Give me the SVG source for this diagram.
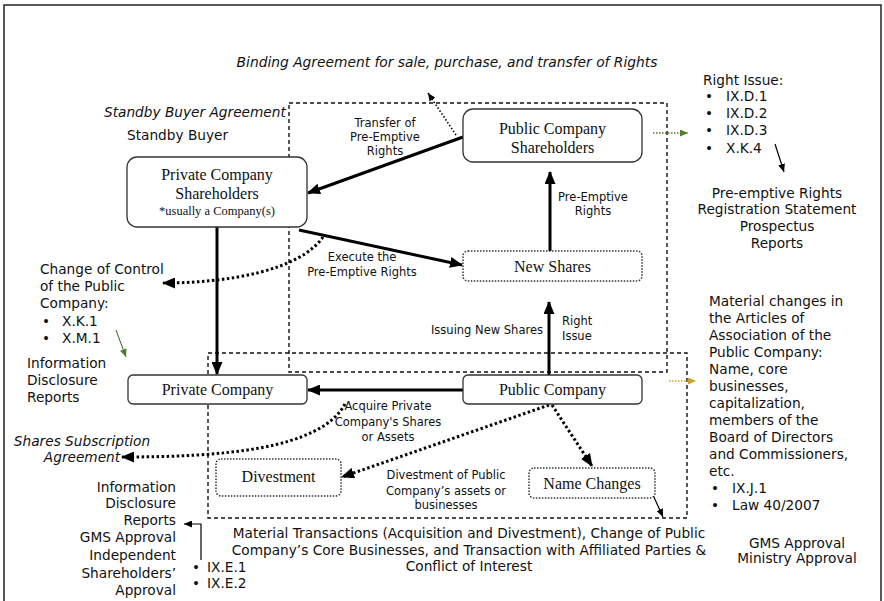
<svg xmlns="http://www.w3.org/2000/svg" width="884" height="601" viewBox="0 0 884 601">
<defs>
<style>
.s{font-family:"DejaVu Sans",Verdana,sans-serif;font-size:13.7px;fill:#111}
.l{font-family:"DejaVu Sans",Verdana,sans-serif;font-size:11.5px;fill:#111}
.i{font-style:italic}
.n{font-family:"Liberation Serif","Times New Roman",serif;font-size:16px;fill:#111}
.box{fill:#fff;stroke:#333;stroke-width:1.3}
.dbox{fill:#fff;stroke:#333;stroke-width:1.5;stroke-dasharray:1.5 1.5}
.grp{fill:none;stroke:#111;stroke-width:1.4;stroke-dasharray:4 3}
.thick{fill:none;stroke:#000;stroke-width:3}
.dot{fill:none;stroke:#000;stroke-width:3;stroke-dasharray:2.5 2.5}
.thin{fill:none;stroke:#000;stroke-width:1.2}
.tdot{fill:none;stroke:#000;stroke-width:1.6;stroke-dasharray:1.5 2}
</style>
<marker id="ah" markerUnits="userSpaceOnUse" markerWidth="13" markerHeight="11" refX="12" refY="5.5" orient="auto"><path d="M0,0 L13,5.5 L0,11 z" fill="#000"/></marker>
<marker id="as" markerUnits="userSpaceOnUse" markerWidth="8" markerHeight="7" refX="8" refY="3.5" orient="auto"><path d="M0,0 L8,3.5 L0,7 z" fill="#000"/></marker>
<marker id="ag" markerUnits="userSpaceOnUse" markerWidth="8" markerHeight="7" refX="8" refY="3.5" orient="auto"><path d="M0,0 L8,3.5 L0,7 z" fill="#4f7f2f"/></marker>
<marker id="ay" markerUnits="userSpaceOnUse" markerWidth="8" markerHeight="7" refX="8" refY="3.5" orient="auto"><path d="M0,0 L8,3.5 L0,7 z" fill="#c9a227"/></marker>
</defs>
<rect width="884" height="601" fill="#fff"/>
<rect x="4" y="5" width="877" height="620" fill="none" stroke="#222" stroke-width="1.5"/>

<g id="groups">
<rect class="grp" x="289" y="103" width="378" height="269"/>
<rect class="grp" x="208" y="353" width="479" height="165"/>
</g>

<g id="connectors">
<line class="thick" x1="463" y1="137" x2="308" y2="193" marker-end="url(#ah)"/>
<line class="tdot" x1="456" y1="135" x2="428" y2="93" marker-end="url(#as)"/>
<line class="thick" x1="550" y1="251" x2="550" y2="172" marker-end="url(#ah)"/>
<line class="thick" x1="299" y1="230" x2="462" y2="265" marker-end="url(#ah)"/>
<line class="thick" x1="217" y1="227" x2="217" y2="374" marker-end="url(#ah)"/>
<path class="dot" d="M323,237 C300,270 230,283 163,283" marker-end="url(#ah)"/>
<line class="thick" x1="549" y1="375" x2="549" y2="302" marker-end="url(#ah)"/>
<line class="thick" x1="463" y1="390" x2="308" y2="390" marker-end="url(#ah)"/>
<path class="dot" d="M345,404 C320,450 220,457 122,457" marker-end="url(#ah)"/>
<line class="dot" x1="549" y1="405" x2="342" y2="477" marker-end="url(#ah)"/>
<line class="dot" x1="552" y1="405" x2="592" y2="466" marker-end="url(#ah)"/>
<line class="thin" x1="653" y1="495" x2="663" y2="517" marker-end="url(#as)"/>
<line x1="653" y1="133" x2="688" y2="133" stroke="#4f7f2f" stroke-width="1.5" stroke-dasharray="1.5 1.5" marker-end="url(#ag)"/>
<line x1="669" y1="381" x2="696" y2="381" stroke="#c9a227" stroke-width="1.5" stroke-dasharray="1.5 1.5" marker-end="url(#ay)"/>
<line x1="116" y1="330" x2="126" y2="357" stroke="#2f5f1f" stroke-width="1" marker-end="url(#ag)"/>
<line class="thin" x1="775" y1="144" x2="784" y2="172" marker-end="url(#as)"/>
<polyline class="thin" points="201,560 201,524 184,524" marker-end="url(#as)"/>
</g>

<g id="pcs">
<rect class="box" x="127" y="157" width="180" height="70" rx="10"/>
<text class="n" x="217" y="180" text-anchor="middle">Private Company</text>
<text class="n" x="217" y="199" text-anchor="middle">Shareholders</text>
<text class="n" x="217" y="215" text-anchor="middle" style="font-size:12.5px">*usually a Company(s)</text>
</g>
<g id="pubsh">
<rect class="box" x="463" y="109" width="179" height="53" rx="10"/>
<text class="n" x="552.5" y="133.5" text-anchor="middle">Public Company</text>
<text class="n" x="552.5" y="152.5" text-anchor="middle">Shareholders</text>
</g>
<g id="newshares">
<rect class="dbox" x="463" y="251" width="179" height="30" rx="5"/>
<text class="n" x="552.5" y="271.5" text-anchor="middle">New Shares</text>
</g>
<g id="privco">
<rect class="box" x="128" y="375" width="179" height="29" rx="5"/>
<text class="n" x="217.5" y="395" text-anchor="middle">Private Company</text>
</g>
<g id="pubco">
<rect class="box" x="463" y="375" width="179" height="29" rx="5"/>
<text class="n" x="552.5" y="395" text-anchor="middle">Public Company</text>
</g>
<g id="divest">
<rect class="dbox" x="216" y="459" width="125" height="37" rx="5"/>
<text class="n" x="278.5" y="482" text-anchor="middle">Divestment</text>
</g>
<g id="namech">
<rect class="dbox" x="529" y="468" width="126" height="30" rx="5"/>
<text class="n" x="592" y="488.5" text-anchor="middle">Name Changes</text>
</g>

<g id="labels">
<text class="l" text-anchor="middle"><tspan x="385" y="127">Transfer of</tspan><tspan x="385" y="141">Pre-Emptive</tspan><tspan x="385" y="155">Rights</tspan></text>
<text class="l" text-anchor="middle"><tspan x="593" y="201">Pre-Emptive</tspan><tspan x="593" y="215">Rights</tspan></text>
<text class="l" text-anchor="middle"><tspan x="362" y="261">Execute the</tspan><tspan x="362" y="276">Pre-Emptive Rights</tspan></text>
<text class="l" x="543" y="334" text-anchor="end">Issuing New Shares</text>
<text class="l"><tspan x="562" y="325">Right</tspan><tspan x="562" y="340">Issue</tspan></text>
<text class="l" text-anchor="middle"><tspan x="388" y="410">Acquire Private</tspan><tspan x="388" y="426">Company's Shares</tspan><tspan x="388" y="441">or Assets</tspan></text>
<text class="l" text-anchor="middle"><tspan x="446" y="479">Divestment of Public</tspan><tspan x="446" y="495">Company’s assets or</tspan><tspan x="446" y="509">businesses</tspan></text>
</g>

<g id="notes">
<text class="s i" x="447" y="67" text-anchor="middle" style="font-size:13.8px">Binding Agreement for sale, purchase, and transfer of Rights</text>
<text class="s i" x="104" y="117">Standby Buyer Agreement</text>
<text class="s" x="127" y="140">Standby Buyer</text>

<text class="s"><tspan x="703" y="85">Right Issue:</tspan></text>
<text class="s"><tspan x="705" y="101">•</tspan><tspan x="726" y="101">IX.D.1</tspan><tspan x="705" y="118">•</tspan><tspan x="726" y="118">IX.D.2</tspan><tspan x="705" y="135">•</tspan><tspan x="726" y="135">IX.D.3</tspan><tspan x="705" y="153">•</tspan><tspan x="726" y="153">X.K.4</tspan></text>
<text class="s" text-anchor="middle"><tspan x="777" y="198">Pre-emptive Rights</tspan><tspan x="777" y="214">Registration Statement</tspan><tspan x="777" y="231">Prospectus</tspan><tspan x="777" y="248">Reports</tspan></text>

<text class="s"><tspan x="40" y="274">Change of Control</tspan><tspan x="40" y="291">of the Public</tspan><tspan x="40" y="308">Company:</tspan><tspan x="42" y="326">•</tspan><tspan x="62" y="326">X.K.1</tspan><tspan x="42" y="343">•</tspan><tspan x="62" y="343">X.M.1</tspan></text>
<text class="s"><tspan x="27" y="368">Information</tspan><tspan x="27" y="385">Disclosure</tspan><tspan x="27" y="402">Reports</tspan></text>

<text class="s"><tspan x="709" y="306">Material changes in</tspan><tspan x="709" y="323">the Articles of</tspan><tspan x="709" y="340">Association of the</tspan><tspan x="709" y="357">Public Company:</tspan><tspan x="709" y="374">Name, core</tspan><tspan x="709" y="391">businesses,</tspan><tspan x="709" y="408">capitalization,</tspan><tspan x="709" y="425">members of the</tspan><tspan x="709" y="442">Board of Directors</tspan><tspan x="709" y="459">and Commissioners,</tspan><tspan x="709" y="476">etc.</tspan><tspan x="711" y="493">•</tspan><tspan x="732" y="493">IX.J.1</tspan><tspan x="711" y="510">•</tspan><tspan x="732" y="510">Law 40/2007</tspan></text>
<text class="s" text-anchor="middle"><tspan x="797" y="548">GMS Approval</tspan><tspan x="797" y="563">Ministry Approval</tspan></text>

<text class="s" text-anchor="middle"><tspan x="469" y="538">Material Transactions (Acquisition and Divestment), Change of Public</tspan><tspan x="469" y="555">Company’s Core Businesses, and Transaction with Affiliated Parties &amp;</tspan><tspan x="469" y="571">Conflict of Interest</tspan></text>

<text class="s i" text-anchor="middle"><tspan x="82" y="446">Shares Subscription</tspan><tspan x="82" y="462">Agreement</tspan></text>
<text class="s" text-anchor="end"><tspan x="176" y="492">Information</tspan><tspan x="176" y="508">Disclosure</tspan><tspan x="176" y="525">Reports</tspan><tspan x="176" y="542">GMS Approval</tspan><tspan x="176" y="560">Independent</tspan><tspan x="176" y="578">Shareholders’</tspan><tspan x="176" y="595">Approval</tspan></text>
<text class="s"><tspan x="192" y="572">•</tspan><tspan x="207" y="572">IX.E.1</tspan><tspan x="192" y="588">•</tspan><tspan x="207" y="588">IX.E.2</tspan></text>
</g>
</svg>
